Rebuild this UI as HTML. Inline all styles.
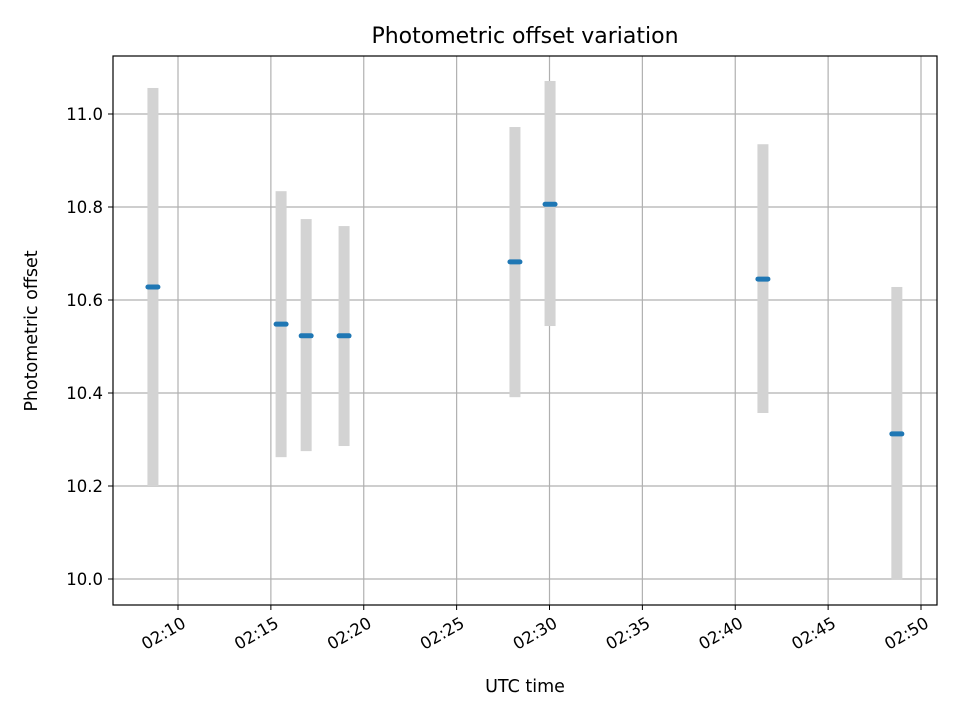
<!DOCTYPE html>
<html><head><meta charset="utf-8"><style>
body{margin:0;background:#fff;font-family:"Liberation Sans","DejaVu Sans",sans-serif}
</style></head><body>
<svg id="chart" width="960" height="720" xmlns="http://www.w3.org/2000/svg">
<text x="525" y="43" font-size="22" text-anchor="middle" font-family="DejaVu Sans,Liberation Sans,sans-serif">Photometric offset variation</text>
<g id="grid"></g>
<g id="marks"></g>
<rect x="113" y="56" width="824" height="549" fill="none" stroke="#000" stroke-width="1.2"/>
<g id="axes" font-size="16.5" font-family="DejaVu Sans,Liberation Sans,sans-serif"></g>
<text x="525" y="692" font-size="17.5" text-anchor="middle" font-family="DejaVu Sans,Liberation Sans,sans-serif">UTC time</text>
<text transform="translate(37,331) rotate(-90)" font-size="17.5" text-anchor="middle" font-family="DejaVu Sans,Liberation Sans,sans-serif">Photometric offset</text>
</svg>
<script>
const times=[8.65,15.55,16.9,18.94,28.14,30.03,41.49,48.7];
const means=[10.628,10.548,10.523,10.523,10.682,10.806,10.645,10.312];
const lows=[10.200,10.262,10.275,10.286,10.391,10.544,10.357,9.998];
const highs=[11.056,10.834,10.774,10.759,10.972,11.071,10.935,10.628];
const xTicks=[10,15,20,25,30,35,40,45,50];
const xTickLabels=["02:10","02:15","02:20","02:25","02:30","02:35","02:40","02:45","02:50"];
const yTicks=[10.0,10.2,10.4,10.6,10.8,11.0];
const yTickLabels=["10.0","10.2","10.4","10.6","10.8","11.0"];
const NS="http://www.w3.org/2000/svg";
const X=m=>178+(m-10)*18.575;
const Y=v=>579-(v-10)*465;
function mk(t,a,p){const e=document.createElementNS(NS,t);for(const k in a)e.setAttribute(k,a[k]);p.appendChild(e);return e;}
const grid=document.getElementById('grid'),marks=document.getElementById('marks'),axes=document.getElementById('axes');
xTicks.forEach((t,i)=>{
 const gl=mk('line',{x1:X(t),x2:X(t),y1:56,y2:605,stroke:'#b0b0b0','stroke-width':1.2},grid);
 
 
 const tk=mk('line',{x1:X(t),x2:X(t),y1:605,y2:610,stroke:'#000'},axes);
 
 
 const ax=X(t)+3, ay=616;
 const tx=mk('text',{x:ax,y:ay,'text-anchor':'end','dominant-baseline':'hanging',transform:`rotate(-30 ${ax} ${ay})`},axes);
 tx.textContent=xTickLabels[i];
 
 
});
yTicks.forEach((t,i)=>{
 const gl=mk('line',{x1:113,x2:937,y1:Y(t),y2:Y(t),stroke:'#b0b0b0','stroke-width':1.2},grid);
 
 
 const tk=mk('line',{x1:108,x2:113,y1:Y(t),y2:Y(t),stroke:'#000'},axes);
 
 
 const tx=mk('text',{x:103,y:Y(t)+6,'text-anchor':'end'},axes);
 tx.textContent=yTickLabels[i];
 
 
});
times.forEach((t,i)=>{
 const b=mk('rect',{x:X(t)-5.5,y:Y(highs[i]),width:11,height:Y(lows[i])-Y(highs[i]),fill:'#d3d3d3'},marks);
 
 
 const m=mk('line',{x1:X(t)-5,x2:X(t)+5,y1:Y(means[i]),y2:Y(means[i]),stroke:'#1f77b4','stroke-width':5,'stroke-linecap':'round'},marks);
 
 
});
</script>
</body></html>
